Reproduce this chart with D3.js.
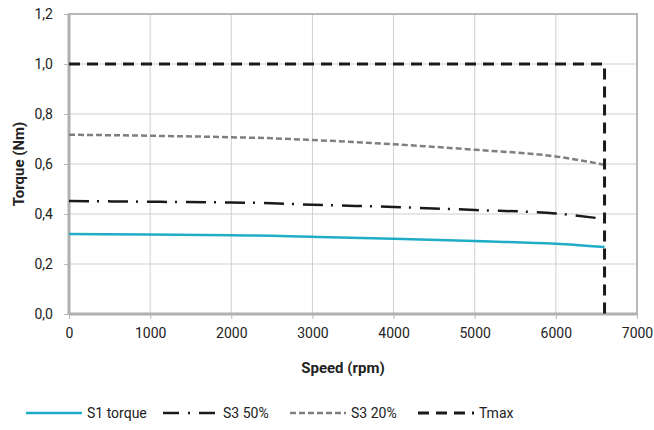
<!DOCTYPE html>
<html><head><meta charset="utf-8">
<script src="https://cdn.jsdelivr.net/npm/d3@7"></script>
<style>body{margin:0;background:#fff}text{font-family:Roboto,sans-serif}</style>
</head><body><svg id="c" width="654" height="430"></svg>
<script>
const speedS = [0, 1000, 2000, 2500, 3000, 4000, 5000, 6000, 6600];
const s1Torque = [0.320, 0.318, 0.315, 0.313, 0.309, 0.301, 0.292, 0.281, 0.268];
const s3_50 = [0.452, 0.449, 0.446, 0.443, 0.437, 0.428, 0.416, 0.402, 0.380];
const s3_20 = [0.717, 0.713, 0.707, 0.703, 0.696, 0.679, 0.657, 0.630, 0.597];
const tmaxSpeed = [0, 6600, 6600];
const tmaxTorque = [1.0, 1.0, 0.0];
const xTicks = [0, 1000, 2000, 3000, 4000, 5000, 6000, 7000];
const yTicks = [0, 0.2, 0.4, 0.6, 0.8, 1.0, 1.2];
const seriesNames = ["S1 torque", "S3 50%", "S3 20%", "Tmax"];

const svg = d3.select("#c");
const L = 69, R = 637, T = 14, B = 314;
const FONT = "Roboto,sans-serif", FS = 14;
const x = d3.scaleLinear().domain([0, 7000]).range([L, R]);
const y = d3.scaleLinear().domain([0, 1.2]).range([B, T]);
const fmt = d => d.toFixed(1).replace(".", ",");

// grid
svg.append("g").selectAll("line").data(xTicks.slice(1, -1)).join("line")
  .attr("x1", d => x(d)).attr("x2", d => x(d)).attr("y1", T).attr("y2", B)
  .attr("stroke", "#cfcfcf").attr("stroke-width", 1);
svg.append("g").selectAll("line").data(yTicks.slice(1, -1)).join("line")
  .attr("x1", L).attr("x2", R).attr("y1", d => y(d)).attr("y2", d => y(d))
  .attr("stroke", "#cfcfcf").attr("stroke-width", 1);

// axes
const xa = svg.append("g").attr("transform", `translate(0,${B})`)
  .call(d3.axisBottom(x).tickValues(xTicks).tickSize(5).tickPadding(9).tickFormat(d3.format("d")));
const ya = svg.append("g").attr("transform", `translate(${L},0)`)
  .call(d3.axisLeft(y).tickValues(yTicks).tickSize(5).tickPadding(11).tickFormat(fmt));
[xa, ya].forEach(a => {
  a.select(".domain").remove();
  a.selectAll(".tick line").attr("stroke", "#b8b8b8");
  a.selectAll("text").attr("font-size", FS).attr("fill", "#222").attr("font-family", FONT);
});
// frame
svg.append("rect").attr("x", L).attr("y", T).attr("width", R - L).attr("height", B - T)
  .attr("fill", "none").attr("stroke", "#b8b8b8").attr("stroke-width", 2);
svg.append("line").attr("x1", L).attr("x2", L).attr("y1", T).attr("y2", B + 1)
  .attr("stroke", "#b0b0b0").attr("stroke-width", 3);
svg.append("line").attr("x1", L).attr("x2", R).attr("y1", B).attr("y2", B)
  .attr("stroke", "#b0b0b0").attr("stroke-width", 3);

const line = d3.line().x(d => x(d[0])).y(d => y(d[1])).curve(d3.curveMonotoneX);
const lineL = d3.line().x(d => x(d[0])).y(d => y(d[1]));
const styles = [
  {c: "#1fadc6", w: 2.5, da: null},
  {c: "#1a1a1a", w: 2.5, da: "20,8,2,9"},
  {c: "#7f7f7f", w: 2.5, da: "6,3"},
  {c: "#1a1a1a", w: 3, da: "11,7"}
];
const data = [
  speedS.map((s, i) => [s, s1Torque[i]]),
  speedS.map((s, i) => [s, s3_50[i]]),
  speedS.map((s, i) => [s, s3_20[i]]),
  tmaxSpeed.map((s, i) => [s, tmaxTorque[i]])
];
data.forEach((d, i) => {
  svg.append("path").datum(d).attr("d", i === 3 ? lineL : line)
    .attr("fill", "none").attr("stroke", styles[i].c).attr("stroke-width", styles[i].w)
    .attr("stroke-dasharray", styles[i].da);
});

// titles
svg.append("text").attr("x", 343).attr("y", 373).attr("text-anchor", "middle")
  .attr("font-size", 15).attr("font-weight", "bold").attr("fill", "#222").text("Speed (rpm)");
svg.append("text").attr("transform", `translate(24,${(T + B) / 2}) rotate(-90)`).attr("text-anchor", "middle")
  .attr("font-size", 15).attr("font-weight", "bold").attr("fill", "#222").text("Torque (Nm)");

// legend
const lx = [26, 163, 290, 418];
const lg = svg.append("g");
seriesNames.forEach((n, i) => {
  lg.append("line").attr("x1", lx[i]).attr("x2", lx[i] + 56).attr("y1", 413).attr("y2", 413)
    .attr("stroke", styles[i].c).attr("stroke-width", styles[i].w)
    .attr("stroke-dasharray", i === 1 ? "16,9,2,9" : styles[i].da);
  lg.append("text").attr("x", lx[i] + (i === 1 ? 60 : 61)).attr("y", 418).attr("font-size", FS)
    .attr("fill", "#222").text(n);
});
</script></body></html>
